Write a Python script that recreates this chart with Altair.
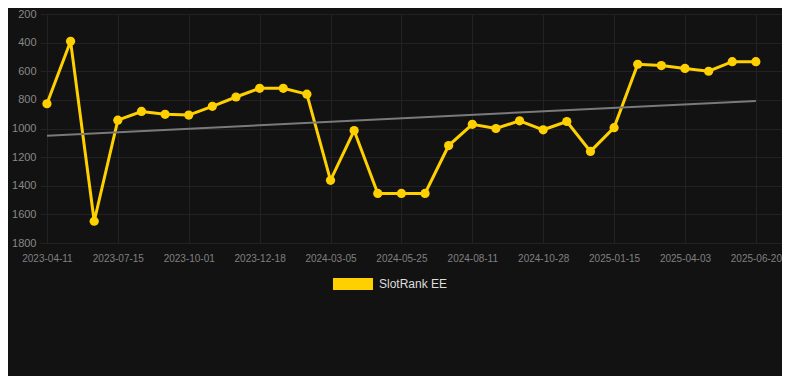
import altair as alt
import pandas as pd

dates = [
    "2023-04-11", "2023-05-12", "2023-06-13", "2023-07-15", "2023-08-10", "2023-09-05",
    "2023-10-01", "2023-10-27", "2023-11-22", "2023-12-18", "2024-01-13", "2024-02-08",
    "2024-03-05", "2024-03-31", "2024-04-28", "2024-05-25", "2024-06-20", "2024-07-16",
    "2024-08-11", "2024-09-06", "2024-10-02", "2024-10-28", "2024-11-23", "2024-12-20",
    "2025-01-15", "2025-02-10", "2025-03-08", "2025-04-03", "2025-04-29", "2025-05-25",
    "2025-06-20",
]
ranks = [
    827, 391, 1648, 942, 881, 901,
    906, 845, 780, 719, 719, 760,
    1362, 1014, 1454, 1454, 1454, 1119,
    971, 1000, 946, 1009, 951, 1160,
    994, 551, 560, 580, 600, 533,
    533,
]
series_name = "SlotRank EE"
trend_dates = ["2023-04-11", "2025-06-20"]
trend_values = [1050, 807]
tick_labels = dates[::3]
y_ticks = [200, 400, 600, 800, 1000, 1200, 1400, 1600, 1800]

YELLOW = "#FFD000"

df = pd.DataFrame({"date": dates, "rank": ranks, "series": [series_name] * len(dates)})
trend_df = pd.DataFrame({"date": trend_dates, "rank": trend_values})

x_enc = alt.X(
    "date:O",
    sort=dates,
    scale=alt.Scale(type="point", domain=dates, padding=0.7, align=0.21),
    axis=alt.Axis(
        values=tick_labels, title=None, labelAngle=0, grid=True, gridColor="#222222",
        domain=False, ticks=False, labelPadding=10, labelColor="#808080",
        labelFontSize=10, labelFont="Liberation Sans", labelOverlap=False,
    ),
)
y_enc = alt.Y(
    "rank:Q",
    scale=alt.Scale(domain=[200, 1800], reverse=True, nice=False, zero=False),
    axis=alt.Axis(
        values=y_ticks, tickCount=9, format="d", title=None, grid=True, gridColor="#222222",
        domain=False, ticks=False, labelPadding=4, labelColor="#888888",
        labelFontSize=11, labelFont="Liberation Sans", labelOverlap=False,
    ),
)

trend = alt.Chart(trend_df).mark_line(color="#7a7a7a", strokeWidth=2).encode(
    x=x_enc, y=y_enc
)
line = alt.Chart(df).mark_line(color=YELLOW, strokeWidth=3).encode(x=x_enc, y=y_enc)
points = alt.Chart(df).mark_point(filled=True, size=85, opacity=1).encode(
    x=x_enc,
    y=y_enc,
    color=alt.Color(
        "series:N",
        scale=alt.Scale(domain=[series_name], range=[YELLOW]),
        legend=alt.Legend(
            title=None, orient="none", legendX=293, legendY=250, direction="horizontal",
            symbolType="M-1,-0.3H1V0.3H-1Z", symbolSize=1600, symbolStrokeWidth=0,
            symbolOpacity=1, labelColor="#dddddd", labelFontSize=12,
            labelFont="Liberation Sans", labelOffset=6, padding=0,
        ),
    ),
)

chart = (
    alt.layer(line, trend, points)
    .properties(
        width=742, height=229, background="#121212",
        autosize=alt.AutoSizeParams(type="none"),
        padding={"left": 32, "top": 6, "right": 0, "bottom": 133},
    )
    .configure_view(stroke=None)
)

chart.save("out.html", embed_options={"renderer": "svg", "actions": False})
